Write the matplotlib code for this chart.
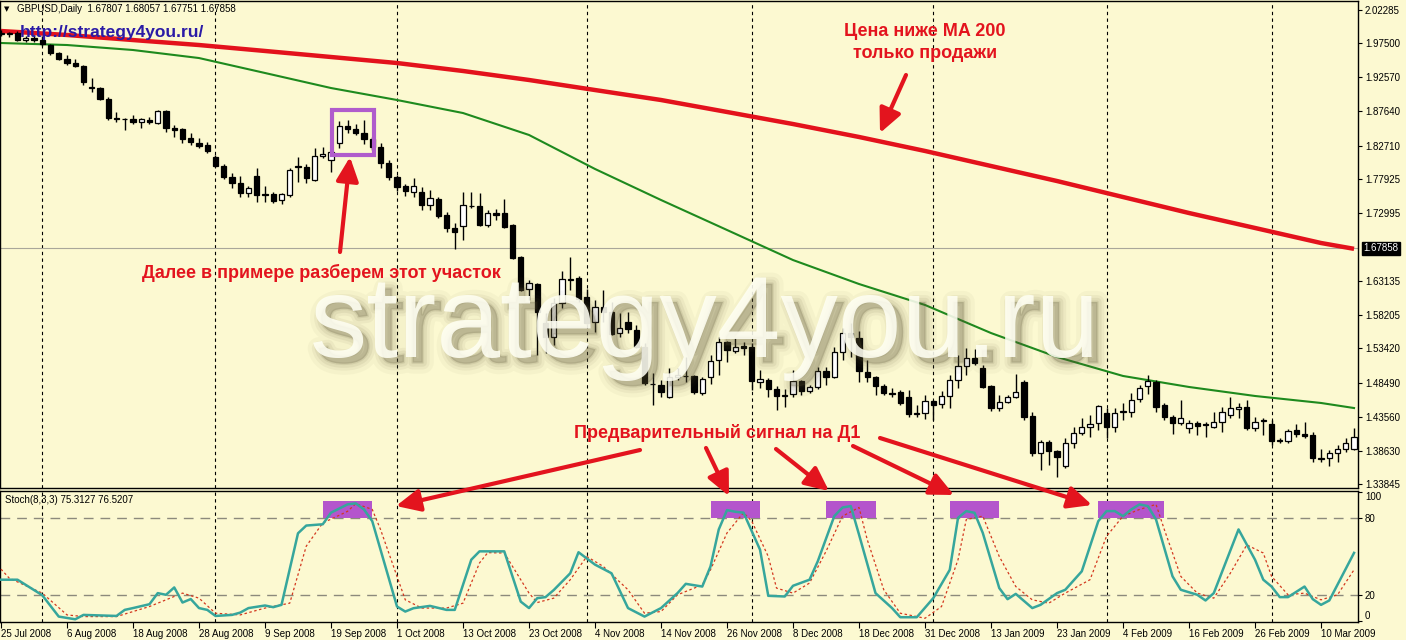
import matplotlib
matplotlib.use('Agg')
import matplotlib.pyplot as plt
import matplotlib.patheffects as pe
from matplotlib.patches import Rectangle, FancyArrowPatch, ArrowStyle
import numpy as np

plt.rcParams['font.family'] = ['Liberation Sans', 'DejaVu Sans']

# ---------------- data (GBPUSD daily, 25 Jul 2008 - 16 Mar 2009) ----------------
OPEN = [
    1.9897, 1.9882, 1.9897, 1.9795, 1.9824, 1.9795, 1.9723, 1.9608, 1.9521, 1.9463,
    1.9420, 1.9117, 1.9102, 1.8943, 1.8669, 1.8655, 1.8655, 1.8611, 1.8640, 1.8597,
    1.8770, 1.8525, 1.8510, 1.8380, 1.8308, 1.8279, 1.8106, 1.7976, 1.7817, 1.7730,
    1.7586, 1.7832, 1.7572, 1.7572, 1.7485, 1.7557, 1.7976, 1.7961, 1.7774, 1.8120,
    1.8063, 1.8308, 1.8554, 1.8510, 1.8452, 1.8366, 1.8250, 1.8019, 1.7817, 1.7687,
    1.7601, 1.7601, 1.7413, 1.7499, 1.7268, 1.7081, 1.7110, 1.7398, 1.7398, 1.7124,
    1.7297, 1.7297, 1.7124, 1.6662, 1.6200, 1.6272, 1.5709, 1.5507, 1.5998, 1.6330,
    1.6359, 1.6084, 1.5723, 1.5940, 1.5868, 1.5564, 1.5723, 1.5608, 1.5362, 1.4828,
    1.4814, 1.4640, 1.4929, 1.4944, 1.4944, 1.4698, 1.4929, 1.5175, 1.5434, 1.5305,
    1.5377, 1.5362, 1.4857, 1.4886, 1.4756, 1.4655, 1.4684, 1.4871, 1.4727, 1.4785,
    1.5016, 1.4929, 1.5290, 1.5564, 1.5492, 1.5001, 1.4929, 1.4799, 1.4698, 1.4712,
    1.4640, 1.4395, 1.4409, 1.4583, 1.4539, 1.4655, 1.4886, 1.5088, 1.5204, 1.5059,
    1.4799, 1.4481, 1.4568, 1.4640, 1.4857, 1.4366, 1.3832, 1.3991, 1.3861, 1.3644,
    1.3976, 1.4120, 1.4207, 1.4265, 1.4409, 1.4207, 1.4424, 1.4424, 1.4611, 1.4799,
    1.4857, 1.4525, 1.4351, 1.4265, 1.4193, 1.4265, 1.4250, 1.4207, 1.4279, 1.4380,
    1.4467, 1.4496, 1.4193, 1.4294, 1.4250, 1.4005, 1.4005, 1.4164, 1.4106, 1.4092,
    1.3745, 1.3760, 1.3832, 1.3889, 1.3889]
HIGH = [
    1.9940, 1.9911, 1.9925, 1.9853, 1.9868, 1.9853, 1.9738, 1.9622, 1.9579, 1.9521,
    1.9434, 1.9247, 1.9117, 1.8972, 1.8756, 1.8669, 1.8712, 1.8669, 1.8684, 1.8785,
    1.8785, 1.8568, 1.8525, 1.8452, 1.8380, 1.8322, 1.8135, 1.8005, 1.7875, 1.7832,
    1.7687, 1.7947, 1.7687, 1.7601, 1.7586, 1.7947, 1.8106, 1.8005, 1.8236, 1.8250,
    1.8207, 1.8626, 1.8640, 1.8582, 1.8640, 1.8395, 1.8308, 1.8063, 1.7846, 1.7716,
    1.7803, 1.7673, 1.7629, 1.7528, 1.7312, 1.7153, 1.7601, 1.7601, 1.7586, 1.7341,
    1.7355, 1.7499, 1.7138, 1.6676, 1.6330, 1.6286, 1.5853, 1.6070, 1.6460, 1.6662,
    1.6388, 1.6200, 1.6041, 1.6185, 1.6012, 1.5853, 1.5868, 1.5680, 1.5420, 1.4987,
    1.4886, 1.5059, 1.5059, 1.5218, 1.4958, 1.4929, 1.5247, 1.5507, 1.5449, 1.5492,
    1.5434, 1.5420, 1.5030, 1.4915, 1.4799, 1.4756, 1.5030, 1.4886, 1.4814, 1.5074,
    1.5074, 1.5362, 1.5637, 1.5709, 1.5593, 1.5175, 1.4944, 1.4828, 1.4770, 1.4741,
    1.4741, 1.4525, 1.4669, 1.4597, 1.4727, 1.4958, 1.5247, 1.5348, 1.5333, 1.5102,
    1.4814, 1.4669, 1.4669, 1.4972, 1.4886, 1.4424, 1.4019, 1.4019, 1.3875, 1.4048,
    1.4207, 1.4337, 1.4380, 1.4520, 1.4481, 1.4481, 1.4554, 1.4698, 1.4814, 1.4958,
    1.4886, 1.4554, 1.4380, 1.4597, 1.4308, 1.4294, 1.4279, 1.4424, 1.4496, 1.4640,
    1.4554, 1.4597, 1.4351, 1.4337, 1.4308, 1.4048, 1.4178, 1.4250, 1.4279, 1.4135,
    1.3889, 1.3875, 1.3947, 1.4048, 1.4193]
LOW = [
    1.9853, 1.9839, 1.9781, 1.9767, 1.9767, 1.9709, 1.9579, 1.9507, 1.9434, 1.9406,
    1.9146, 1.9045, 1.8929, 1.8640, 1.8611, 1.8496, 1.8582, 1.8525, 1.8582, 1.8582,
    1.8467, 1.8395, 1.8308, 1.8279, 1.8236, 1.8164, 1.7961, 1.7788, 1.7658, 1.7528,
    1.7528, 1.7456, 1.7456, 1.7442, 1.7427, 1.7528, 1.7745, 1.7730, 1.7759, 1.8091,
    1.7889, 1.8236, 1.8452, 1.8424, 1.8294, 1.8207, 1.7947, 1.7774, 1.7615, 1.7543,
    1.7528, 1.7341, 1.7341, 1.7225, 1.7023, 1.6777, 1.6907, 1.7370, 1.7110, 1.7095,
    1.7196, 1.7081, 1.6633, 1.6171, 1.6041, 1.5247, 1.5276, 1.5391, 1.5925, 1.6185,
    1.6012, 1.5694, 1.5579, 1.5723, 1.5536, 1.5507, 1.5564, 1.5348, 1.4814, 1.4525,
    1.4640, 1.4626, 1.4886, 1.4857, 1.4684, 1.4669, 1.4828, 1.4958, 1.5146, 1.5276,
    1.5247, 1.4741, 1.4770, 1.4640, 1.4453, 1.4496, 1.4640, 1.4669, 1.4698, 1.4756,
    1.4814, 1.4915, 1.5175, 1.5218, 1.4857, 1.4857, 1.4669, 1.4669, 1.4640, 1.4525,
    1.4351, 1.4351, 1.4323, 1.4308, 1.4481, 1.4481, 1.4770, 1.4958, 1.5102, 1.4770,
    1.4438, 1.4438, 1.4554, 1.4626, 1.4308, 1.3788, 1.3586, 1.3658, 1.3485, 1.3615,
    1.3904, 1.4092, 1.4063, 1.4164, 1.4048, 1.4135, 1.4308, 1.4351, 1.4568, 1.4684,
    1.4424, 1.4308, 1.4106, 1.4236, 1.4120, 1.4092, 1.4063, 1.4193, 1.4135, 1.4337,
    1.4337, 1.4164, 1.4149, 1.4092, 1.3947, 1.3976, 1.3976, 1.4063, 1.4048, 1.3702,
    1.3702, 1.3644, 1.3702, 1.3846, 1.3875]
CLOSE = [
    1.9882, 1.9890, 1.9795, 1.9824, 1.9795, 1.9738, 1.9608, 1.9521, 1.9463, 1.9420,
    1.9189, 1.9102, 1.8943, 1.8669, 1.8655, 1.8650, 1.8611, 1.8655, 1.8611, 1.8770,
    1.8525, 1.8496, 1.8366, 1.8322, 1.8265, 1.8193, 1.7976, 1.7817, 1.7730, 1.7586,
    1.7658, 1.7557, 1.7557, 1.7471, 1.7572, 1.7918, 1.7961, 1.7803, 1.8120, 1.8149,
    1.8178, 1.8554, 1.8510, 1.8452, 1.8366, 1.8250, 1.8019, 1.7817, 1.7673, 1.7615,
    1.7687, 1.7413, 1.7514, 1.7254, 1.7081, 1.7023, 1.7413, 1.7405, 1.7124, 1.7297,
    1.7268, 1.7095, 1.6647, 1.6185, 1.6286, 1.5868, 1.5507, 1.5998, 1.6344, 1.6344,
    1.6055, 1.5709, 1.5940, 1.5868, 1.5550, 1.5637, 1.5622, 1.5362, 1.4842, 1.4835,
    1.4712, 1.4929, 1.4958, 1.4950, 1.4712, 1.4900, 1.5160, 1.5434, 1.5319, 1.5362,
    1.5348, 1.4871, 1.4900, 1.4756, 1.4655, 1.4669, 1.4871, 1.4727, 1.4785, 1.5016,
    1.4929, 1.5290, 1.5564, 1.5507, 1.5016, 1.4929, 1.4799, 1.4698, 1.4684, 1.4554,
    1.4395, 1.4409, 1.4583, 1.4525, 1.4655, 1.4886, 1.5088, 1.5204, 1.5131, 1.4785,
    1.4481, 1.4568, 1.4640, 1.4712, 1.4351, 1.3832, 1.3991, 1.3861, 1.3774, 1.3976,
    1.4120, 1.4207, 1.4250, 1.4510, 1.4207, 1.4409, 1.4438, 1.4597, 1.4770, 1.4871,
    1.4496, 1.4351, 1.4265, 1.4337, 1.4265, 1.4222, 1.4236, 1.4279, 1.4424, 1.4481,
    1.4496, 1.4193, 1.4279, 1.4308, 1.4005, 1.4019, 1.4149, 1.4106, 1.4077, 1.3760,
    1.3760, 1.3832, 1.3889, 1.3976, 1.4063]

# moving averages, read every 8 bars
MA_IDX = [0, 8, 16, 24, 32, 40, 48, 56, 64, 72, 80, 88, 96, 104, 112, 120, 128, 136, 144, 152, 160, 164]
MA200 = [1.9925, 1.9868, 1.9795, 1.9723, 1.9637, 1.9550, 1.9463, 1.9348, 1.9218, 1.9073, 1.8929,
         1.8756, 1.8582, 1.8395, 1.8193, 1.7976, 1.7759, 1.7528, 1.7297, 1.7081, 1.6864, 1.6780]
MA_GREEN = [1.9752, 1.9723, 1.9651, 1.9535, 1.9319, 1.9102, 1.8929, 1.8741, 1.8424, 1.7933, 1.7485,
            1.7052, 1.6618, 1.6272, 1.5969, 1.5564, 1.5218, 1.4944, 1.4785, 1.4655, 1.4554, 1.4481]

# Stochastic (8,3,3): %K main line and %D signal line (bar index, value)
K_IDX = [0, 2, 5, 7, 9, 10, 14, 15, 16, 18,
         19, 20, 21, 22, 23, 24, 25, 26, 28, 29,
         30, 32, 33, 34, 36, 37, 39, 40, 42, 43,
         44, 45, 48, 49, 50, 52, 54, 55, 57, 58,
         61, 63, 64, 65, 66, 67, 69, 70, 72, 74,
         76, 78, 80, 82, 83, 85, 86, 87, 88, 89,
         90, 92, 93, 95, 96, 98, 99, 101, 102, 103,
         104, 106, 108, 109, 111, 113, 115, 116, 117, 118,
         119, 121, 122, 123, 125, 126, 128, 129, 131, 133,
         134, 135, 136, 137, 138, 139, 140, 142, 143, 145,
         146, 147, 150, 152, 153, 154, 155, 156, 158, 159,
         160, 161, 164]
K_VAL = [32, 32, 20, 3.4, 1.3, 4.7, 3.9, 8.6, 10, 13,
         21.6, 20.3, 26, 14.3, 17, 10, 8.6, 3.9, 4.7, 6.5,
         10, 12, 10.7, 12.5, 68, 74, 75, 84, 90.4, 91.2,
         86.5, 77.4, 11.2, 7.3, 9.9, 11.7, 8.6, 8.6, 47.5, 54,
         54, 15, 10, 17.7, 18.5, 24, 37, 53.3, 43.7, 37,
         10, 3.4, 10, 21.6, 28.8, 26.7, 42.3, 71, 86, 84.7,
         84, 55.3, 19.5, 19, 27.3, 32, 46.3, 81.3, 88, 89.1,
         67, 21.6, 10, 2.9, 2.9, 17.7, 39.7, 80, 85.2, 83.9,
         68.3, 25.5, 16.9, 21, 10, 12.5, 21.6, 24.2, 38.5, 77.4,
         85.2, 85.2, 81.3, 86.5, 90.4, 89.1, 78.7, 34.6, 24.2, 20.3,
         15.9, 21.6, 71, 47.5, 32, 26.7, 18.5, 18.5, 26.7, 16.9,
         12.5, 15.9, 52.8]
D_IDX = [0, 1, 5, 8, 10, 14, 18, 22, 24, 26,
         29, 32, 35, 37, 39, 42, 43, 45, 46, 49,
         51, 54, 56, 58, 59, 61, 64, 65, 67, 69,
         71, 73, 76, 78, 80, 82, 85, 86, 88, 90,
         91, 93, 94, 96, 98, 100, 102, 104, 105, 107,
         109, 112, 114, 116, 117, 119, 121, 123, 125, 127,
         129, 132, 134, 136, 138, 140, 141, 143, 145, 147,
         149, 151, 153, 154, 156, 158, 160, 162, 164]
D_VAL = [40.2, 33.2, 21.6, 4.7, 3.4, 3.4, 11.2, 21.6, 17.7, 6,
         4.7, 10, 13.8, 58, 76, 85, 91, 86.5, 71, 16.4,
         10, 10, 13.8, 45, 53, 52.7, 21.6, 14.3, 17.7, 32,
         50, 42.3, 24.2, 6, 7.3, 20.3, 28, 39.7, 68.3, 84,
         77.4, 50, 25.5, 21.6, 29.4, 54, 81.3, 88, 63, 24.2,
         6, 2.1, 11.2, 47.5, 78.7, 81.3, 50, 26.7, 16.4, 13.8,
         21.6, 32, 65.7, 81.3, 86.5, 90.4, 71, 34.6, 21.6, 17.7,
         37, 59, 52.7, 34.6, 20.3, 21.6, 16.4, 20.3, 39.7]

DATE_IDX = [0, 8, 16, 24, 32, 40, 48, 56, 64, 72, 80, 88, 96, 104, 112, 120, 128, 136, 144, 152, 160]
DATE_LABELS = ['25 Jul 2008', '6 Aug 2008', '18 Aug 2008', '28 Aug 2008', '9 Sep 2008', '19 Sep 2008',
               '1 Oct 2008', '13 Oct 2008', '23 Oct 2008', '4 Nov 2008', '14 Nov 2008', '26 Nov 2008',
               '8 Dec 2008', '18 Dec 2008', '31 Dec 2008', '13 Jan 2009', '23 Jan 2009', '4 Feb 2009',
               '16 Feb 2009', '26 Feb 2009', '10 Mar 2009']
MONTH_START_IDX = [5, 26, 48, 71, 91, 113, 134, 154]
PRICE_TICKS = [2.02285, 1.97500, 1.92570, 1.87640, 1.82710, 1.77925, 1.72995,
               1.63135, 1.58205, 1.53420, 1.48490, 1.43560, 1.38630, 1.33845]
BID = 1.67858
STOCH_TICKS = [100, 80, 20, 0]
SIGNAL_ZONES = [(39, 45), (86, 92), (100, 106), (115, 121), (133, 141)]
HL_BARS = (40.1, 45.2)
HL_PRICES = (1.8135, 1.8785)

# ---------------- figure ----------------
W, H = 1406, 640
fig = plt.figure(figsize=(W / 100, H / 100), dpi=100)
BG = '#fcf9d1'
RED = '#e3141e'
fig.patch.set_facecolor(BG)


def fx(px):
    return px / W


def fy(py):
    return 1 - py / H


XLIM = (-0.12, 164.48)
ax = fig.add_axes([0, fy(488), fx(1358), 487 / H])
ax.set_facecolor(BG)
ax.set_xlim(*XLIM)
ax.set_ylim(1.33263, 2.03586)

axs = fig.add_axes([0, fy(622), fx(1358), 131 / H])
axs.set_facecolor(BG)
axs.set_xlim(*XLIM)
axs.set_ylim(-0.8, 100.8)

for a in (ax, axs):
    for s in a.spines.values():
        s.set_color('black')
        s.set_linewidth(1.0)
    for m in MONTH_START_IDX:
        a.axvline(m, color='black', lw=0.8, ls=(0, (3, 3)), zorder=1)

# main panel
ax.axhline(BID, color='#a9a79a', lw=0.8, zorder=1)
ax.plot(MA_IDX, MA200, color='#e3121c', lw=3.2, zorder=2, solid_capstyle='butt')
ax.plot(MA_IDX, MA_GREEN, color='#1e8a1e', lw=1.5, zorder=2)

o = np.array(OPEN); c = np.array(CLOSE); h = np.array(HIGH); l = np.array(LOW)
idx = np.arange(len(o))
ax.vlines(idx, l, h, color='black', lw=1.0, zorder=3)
bull = c >= o
lo = np.minimum(o, c)
bh = np.maximum(np.abs(c - o), 0.0004)
ax.bar(idx[bull], bh[bull], bottom=lo[bull], width=0.62, color='white', edgecolor='black', lw=0.9, zorder=4)
ax.bar(idx[~bull], bh[~bull], bottom=lo[~bull], width=0.62, color='black', edgecolor='black', lw=0.9, zorder=4)

ax.add_patch(Rectangle((HL_BARS[0], HL_PRICES[0]), HL_BARS[1] - HL_BARS[0], HL_PRICES[1] - HL_PRICES[0],
                       fill=False, edgecolor='#b05ccc', lw=3, zorder=5))

ax.set_xticks([])
ax.yaxis.tick_right()
ax.set_yticks(PRICE_TICKS)
ax.set_yticklabels([f'{v:.5f}' for v in PRICE_TICKS])
ax.tick_params(axis='y', length=3, width=0.8, pad=2, labelsize=7, colors='black')
ax.annotate(f'{BID:.5f}', xy=(1, BID), xycoords=('axes fraction', 'data'), xytext=(4, 0),
            textcoords='offset points', ha='left', va='center', fontsize=7, color='white',
            bbox=dict(boxstyle='square,pad=0.15', fc='black', ec='black'), annotation_clip=False)

# stochastic panel
axs.axhline(80, color='#8c8a7c', lw=1, ls=(0, (7, 5)), zorder=1)
axs.axhline(20, color='#8c8a7c', lw=1, ls=(0, (7, 5)), zorder=1)
for a0, a1 in SIGNAL_ZONES:
    axs.add_patch(Rectangle((a0, 80), a1 - a0, 13, color='#b455cc', zorder=2, lw=0))
axs.plot(D_IDX, D_VAL, color='#d3381f', lw=0.9, ls=(0, (2, 2)), zorder=3)
axs.plot(K_IDX, K_VAL, color='#36a69c', lw=1.8, zorder=4)
axs.yaxis.tick_right()
axs.set_yticks(STOCH_TICKS)
axs.set_yticklabels([str(v) for v in STOCH_TICKS])
axs.tick_params(axis='y', length=3, width=0.8, pad=2, labelsize=7)
for t, v in zip(axs.yaxis.get_major_ticks(), STOCH_TICKS):
    if v == 100:
        t.label2.set_va('top')
    elif v == 0:
        t.label2.set_va('bottom')
axs.set_xticks(DATE_IDX)
axs.set_xticklabels(DATE_LABELS, ha='left')
axs.tick_params(axis='x', length=4, width=0.8, pad=1, labelsize=7)

# header texts
fig.text(fx(4), fy(9), '\u25BC', fontsize=5, va='center', family='DejaVu Sans')
fig.text(fx(17), fy(9), 'GBPUSD,Daily  1.67807 1.68057 1.67751 1.67858', fontsize=7, va='center')
fig.text(fx(5), fy(500), 'Stoch(8,3,3) 75.3127 76.5207', fontsize=7, va='center')
fig.text(fx(20), fy(37), 'http://strategy4you.ru/', fontsize=12.5, fontweight='bold',
         color='#2b1ba6', va='baseline', zorder=8)

# watermark
WM = 'strategy4you.ru'
WM_SIZE = 82.5
for (w, a_) in [(16, 0.04), (10, 0.06), (6, 0.08), (2, 0.11)]:
    fig.text(fx(310), fy(357), WM, fontsize=WM_SIZE, color='#5c5434', alpha=a_, va='baseline',
             path_effects=[pe.Stroke(linewidth=w, foreground='#5c5434', alpha=a_, offset=(4, -4))], zorder=6)
fig.text(fx(310), fy(357), WM, fontsize=WM_SIZE, color='#fffff3', alpha=0.88, va='baseline', zorder=7)

# red annotations
tk = dict(color=RED, fontsize=13, fontweight='bold', ha='center', va='center', zorder=9)
fig.text(fx(925), fy(31), 'Цена ниже MA 200', **tk)
fig.text(fx(925), fy(53), 'только продажи', **tk)
fig.text(fx(321), fy(273), 'Далее в примере разберем этот участок', **tk)
fig.text(fx(717), fy(433), 'Предварительный сигнал на Д1', **tk)

ARROWS = [((906, 75), (880, 133)), ((340, 252), (350, 157)), ((640, 450), (396, 506)),
          ((706, 448), (729, 496)), ((776, 449), (829, 491)), ((853, 446), (954, 495)),
          ((880, 438), (1092, 505))]
for (x1, y1), (x2, y2) in ARROWS:
    fig.add_artist(FancyArrowPatch((fx(x1), fy(y1)), (fx(x2), fy(y2)), transform=fig.transFigure,
                                   arrowstyle=ArrowStyle('-|>', head_length=1.45, head_width=0.68),
                                   mutation_scale=10, lw=3, color=RED, shrinkA=0, shrinkB=0, zorder=10))

fig.savefig('out.png', dpi=100, facecolor=BG)
